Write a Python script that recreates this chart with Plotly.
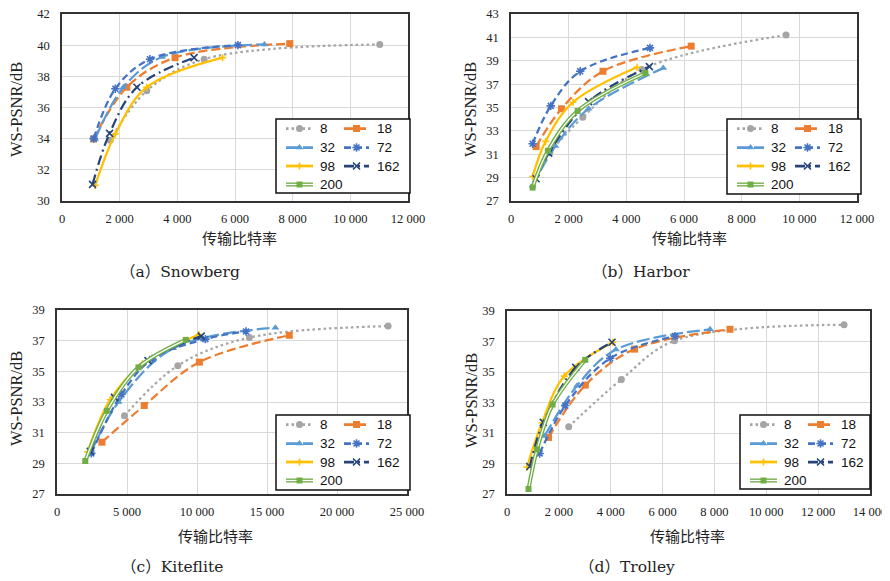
import plotly.graph_objects as go

# the page body adds an 8px margin; the figure is sized so it fills the 890x581 window
OFF = 8
SW, SH = 890, 581
W, H = SW - OFF, SH - OFF

names = ["8", "18", "32", "72", "98", "162", "200"]

# (a) Snowberg
snow_x_8 = [1670, 2940, 4930, 11020]
snow_y_8 = [33.9, 37.07, 39.1, 40.05]
snow_x_18 = [1100, 2250, 3920, 7900]
snow_y_18 = [33.98, 37.3, 39.2, 40.1]
snow_x_32 = [1150, 2130, 3470, 7020]
snow_y_32 = [33.98, 37.3, 39.24, 40.05]
snow_x_72 = [1100, 1850, 3050, 6100]
snow_y_72 = [34.0, 37.2, 39.1, 40.0]
snow_x_98 = [1150, 1850, 2940, 5570]
snow_y_98 = [31.0, 34.3, 37.3, 39.2]
snow_x_162 = [1060, 1650, 2600, 4580]
snow_y_162 = [31.07, 34.34, 37.3, 39.2]
snow_x_200 = []
snow_y_200 = []

# (b) Harbor
harb_x_8 = [1350, 2490, 4540, 9540]
harb_y_8 = [31.2, 34.17, 38.25, 41.2]
harb_x_18 = [870, 1750, 3190, 6250]
harb_y_18 = [31.66, 34.89, 38.1, 40.25]
harb_x_32 = [750, 1540, 2690, 5280]
harb_y_32 = [28.3, 31.7, 34.9, 38.37]
harb_x_72 = [750, 1380, 2400, 4820]
harb_y_72 = [31.9, 35.14, 38.1, 40.1]
harb_x_98 = [750, 1200, 2150, 4370]
harb_y_98 = [29.1, 32.1, 35.45, 38.45]
harb_x_162 = [870, 1310, 2690, 4800]
harb_y_162 = [28.9, 31.1, 35.5, 38.5]
harb_x_200 = [750, 1280, 2310, 4660]
harb_y_200 = [28.15, 31.3, 34.7, 37.95]

# (c) Kiteflite
kite_x_8 = [4820, 8630, 13740, 23650]
kite_y_8 = [32.1, 35.37, 37.2, 37.95]
kite_x_18 = [3210, 6230, 10170, 16590]
kite_y_18 = [30.38, 32.77, 35.6, 37.35]
kite_x_32 = [2420, 4400, 8300, 15600]
kite_y_32 = [29.7, 33.0, 36.5, 37.85]
kite_x_72 = [2450, 4600, 6800, 10600, 13500]
kite_y_72 = [29.65, 33.5, 35.8, 37.1, 37.6]
kite_x_98 = [2190, 3800, 6100, 10150]
kite_y_98 = [29.75, 33.15, 35.5, 37.4]
kite_x_162 = [2380, 4100, 6500, 10300]
kite_y_162 = [29.78, 33.3, 35.7, 37.3]
kite_x_200 = [2020, 3560, 5820, 9200]
kite_y_200 = [29.15, 32.42, 35.26, 37.05]

# (d) Trolley
trol_x_8 = [2380, 4410, 6460, 13000]
trol_y_8 = [31.41, 34.51, 37.05, 38.1]
trol_x_18 = [1600, 3020, 4920, 8600]
trol_y_18 = [30.71, 34.14, 36.5, 37.8]
trol_x_32 = [1450, 2700, 4200, 7830]
trol_y_32 = [30.8, 34.1, 36.47, 37.8]
trol_x_72 = [1260, 2250, 3980, 6480]
trol_y_72 = [29.66, 32.8, 35.9, 37.35]
trol_x_98 = [770, 1350, 2210, 4080]
trol_y_98 = [28.75, 31.67, 34.73, 36.95]
trol_x_162 = [880, 1400, 2650, 4050]
trol_y_162 = [28.8, 31.7, 35.3, 36.95]
trol_x_200 = [830, 1160, 1760, 3020]
trol_y_200 = [27.33, 29.93, 32.87, 35.8]

panels = [
    ([snow_x_8, snow_x_18, snow_x_32, snow_x_72, snow_x_98, snow_x_162, snow_x_200],
     [snow_y_8, snow_y_18, snow_y_32, snow_y_72, snow_y_98, snow_y_162, snow_y_200]),
    ([harb_x_8, harb_x_18, harb_x_32, harb_x_72, harb_x_98, harb_x_162, harb_x_200],
     [harb_y_8, harb_y_18, harb_y_32, harb_y_72, harb_y_98, harb_y_162, harb_y_200]),
    ([kite_x_8, kite_x_18, kite_x_32, kite_x_72, kite_x_98, kite_x_162, kite_x_200],
     [kite_y_8, kite_y_18, kite_y_32, kite_y_72, kite_y_98, kite_y_162, kite_y_200]),
    ([trol_x_8, trol_x_18, trol_x_32, trol_x_72, trol_x_98, trol_x_162, trol_x_200],
     [trol_y_8, trol_y_18, trol_y_32, trol_y_72, trol_y_98, trol_y_162, trol_y_200]),
]

captions = ["（a）Snowberg", "（b）Harbor", "（c）Kiteflite", "（d）Trolley"]
x_ranges = [[0, 12000], [0, 12000], [0, 25000], [0, 14000]]
x_dticks = [2000, 2000, 5000, 2000]
y_ranges = [[30, 42], [27, 43], [27, 39], [27, 39]]

# screen-pixel boxes of plot areas (left, top, right, bottom)
boxes = [(62, 14, 408, 201), (511, 14, 857, 201), (57, 310, 407, 494), (507, 311, 870, 494)]
legend_boxes = [(276, 119, 410, 193), (727, 119, 861, 194), (276, 415, 410, 490), (740, 415, 870, 489)]
caption_pos = [(180, 272), (641, 272), (172, 567), (627, 567)]
xtitle_pos = [(240, 238), (689, 238), (215, 535), (687, 535)]
ytitle_pos = [(17, 110), (471, 110), (16, 399), (471, 401)]

colors = ["#A5A5A5", "#ED7D31", "#5B9BD5", "#4472C4", "#FFC000", "#264478", "#70AD47"]
dashes = ["2.5px,3px", "9px,4px", "13px,4px", "7px,4px", "solid", "10px,4px,2px,4px", "solid"]
symbols = ["circle", "square", "triangle-up", "asterisk-open", "cross-thin-open", "x-thin-open", "square"]
msizes = [7, 7, 7, 7, 5, 7, 6]
LW = 2.25
SMOOTH = 1.0

fig = go.Figure()


def px2paper(sx, sy):
    return (sx - OFF) / W, 1 - (sy - OFF) / H


def add_series(xs, ys, i, xa, ya):
    c = colors[i]
    if names[i] == "200":
        fig.add_trace(go.Scatter(x=xs, y=ys, mode="lines", xaxis=xa, yaxis=ya,
                                 line=dict(color=c, width=4, shape="spline", smoothing=SMOOTH),
                                 showlegend=False, hoverinfo="skip"))
        fig.add_trace(go.Scatter(x=xs, y=ys, mode="lines", xaxis=xa, yaxis=ya,
                                 line=dict(color="white", width=1.3, shape="spline", smoothing=SMOOTH),
                                 showlegend=False, hoverinfo="skip"))
        fig.add_trace(go.Scatter(x=xs, y=ys, mode="markers", xaxis=xa, yaxis=ya,
                                 marker=dict(color=c, size=msizes[i], symbol=symbols[i]),
                                 showlegend=False))
    else:
        mk = dict(color=c, size=msizes[i], symbol=symbols[i])
        if symbols[i].endswith("open"):
            mk["line"] = dict(color=c, width=1.6)
        fig.add_trace(go.Scatter(x=xs, y=ys, mode="lines+markers", xaxis=xa, yaxis=ya,
                                 line=dict(color=c, width=LW, dash=dashes[i], shape="spline",
                                           smoothing=SMOOTH),
                                 marker=mk, showlegend=False))


layout = dict(
    width=W, height=H, autosize=False,
    margin=dict(l=0, r=0, t=0, b=0, pad=0, autoexpand=False),
    paper_bgcolor="white", plot_bgcolor="rgba(0,0,0,0)",
    separators=". ", showlegend=False,
)
annotations = []
shapes = []
tickfont = dict(family="Liberation Serif", size=12.5, color="#222")

for p in range(4):
    sfx = "" if p == 0 else str(p + 1)
    xa, ya = "x" + sfx, "y" + sfx
    l, t, r, b = boxes[p]
    x0p, y1p = px2paper(l, t)
    x1p, y0p = px2paper(r, b)
    layout["xaxis" + sfx] = dict(
        domain=[x0p, x1p], range=x_ranges[p], dtick=x_dticks[p], tick0=0, tickformat=",d",
        showgrid=True, gridcolor="#D9D9D9", gridwidth=1, zeroline=False,
        showline=True, linecolor="#333", linewidth=1.5, mirror=True, automargin=False,
        ticks="", tickfont=tickfont, anchor=ya, fixedrange=True, ticklabelstandoff=5,
        ticklabeloverflow="allow",
    )
    layout["yaxis" + sfx] = dict(
        domain=[y0p, y1p], range=y_ranges[p], dtick=2, tick0=y_ranges[p][0],
        showgrid=True, gridcolor="#D9D9D9", gridwidth=1, zeroline=False,
        showline=True, linecolor="#333", linewidth=1.5, mirror=True, automargin=False,
        ticks="", tickfont=tickfont, anchor=xa, fixedrange=True, ticklabelstandoff=8,
        ticklabeloverflow="allow",
    )
    xs_list, ys_list = panels[p]
    for i in range(7):
        add_series(xs_list[i], ys_list[i], i, xa, ya)

    # captions and axis titles
    cx, cy = px2paper(*caption_pos[p])
    annotations.append(dict(text=captions[p], x=cx, y=cy, xref="paper", yref="paper",
                            xanchor="center", yanchor="middle", showarrow=False,
                            font=dict(family="DejaVu Serif, Noto Sans CJK SC", size=15.5, color="#222")))
    tx, ty = px2paper(*xtitle_pos[p])
    annotations.append(dict(text="传输比特率", x=tx, y=ty, xref="paper", yref="paper",
                            xanchor="center", yanchor="middle", showarrow=False,
                            font=dict(family="Noto Sans CJK SC", size=15, color="#222")))
    yx, yy = px2paper(*ytitle_pos[p])
    annotations.append(dict(text="WS-PSNR/dB", x=yx, y=yy, xref="paper", yref="paper",
                            xanchor="center", yanchor="middle", showarrow=False, textangle=-90,
                            font=dict(family="Liberation Serif", size=16.5, color="#222")))

# overlay axes in screen-pixel coordinates for the legends
layout["xaxis5"] = dict(domain=[0, 1], range=[OFF, SW], visible=False, fixedrange=True, anchor="y5",
                        automargin=False)
layout["yaxis5"] = dict(domain=[0, 1], range=[SH, OFF], visible=False, fixedrange=True, anchor="x5",
                        automargin=False)

rows = [9.5, 28.5, 47, 65.5]
col_sample = [(10, 37), (68, 93)]
col_text = [42, 99]
for p in range(4):
    L, T, R, B = legend_boxes[p]
    shapes.append(dict(type="rect", xref="x5", yref="y5", x0=L, y0=T, x1=R, y1=B,
                       fillcolor="white", line=dict(color="#111", width=1.5), layer="below"))
    for i in range(7):
        rr, cc = divmod(i, 2)
        yv = T + rows[rr]
        x0, x1 = L + col_sample[cc][0], L + col_sample[cc][1]
        xm = (x0 + x1) / 2
        c = colors[i]
        if names[i] == "200":
            fig.add_trace(go.Scatter(x=[x0, x1], y=[yv, yv], mode="lines", xaxis="x5", yaxis="y5",
                                     line=dict(color=c, width=4), showlegend=False, hoverinfo="skip"))
            fig.add_trace(go.Scatter(x=[x0, x1], y=[yv, yv], mode="lines", xaxis="x5", yaxis="y5",
                                     line=dict(color="white", width=1.3), showlegend=False, hoverinfo="skip"))
            fig.add_trace(go.Scatter(x=[xm], y=[yv], mode="markers", xaxis="x5", yaxis="y5",
                                     marker=dict(color=c, size=msizes[i], symbol=symbols[i]),
                                     showlegend=False, hoverinfo="skip"))
        else:
            mk = dict(color=c, size=msizes[i], symbol=symbols[i])
            if symbols[i].endswith("open"):
                mk["line"] = dict(color=c, width=1.6)
            fig.add_trace(go.Scatter(x=[x0, x1], y=[yv, yv], mode="lines", xaxis="x5", yaxis="y5",
                                     line=dict(color=c, width=LW + 0.5, dash=dashes[i]),
                                     showlegend=False, hoverinfo="skip"))
            fig.add_trace(go.Scatter(x=[xm], y=[yv], mode="markers", xaxis="x5", yaxis="y5",
                                     marker=mk, showlegend=False, hoverinfo="skip"))
        annotations.append(dict(text=names[i], x=L + col_text[cc], y=yv, xref="x5", yref="y5",
                                xanchor="left", yanchor="middle", showarrow=False,
                                font=dict(family="Liberation Sans", size=13.5, color="#111")))

layout["annotations"] = annotations
layout["shapes"] = shapes
fig.update_layout(**layout)
fig.write_html("out.html")
